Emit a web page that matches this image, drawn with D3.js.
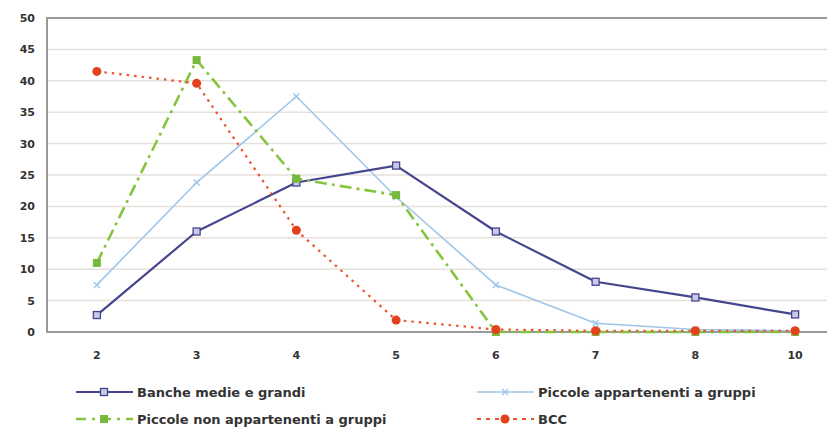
<!DOCTYPE html>
<html>
<head>
<meta charset="utf-8">
<script src="https://cdn.jsdelivr.net/npm/d3@7"></script>
<style>
  html, body { margin: 0; padding: 0; background: #fff; }
  svg { display: block; }
  text { font-family: "DejaVu Sans", "Liberation Sans", Arial, sans-serif; font-weight: bold; fill: #333; }
</style>
</head>
<body>
<svg id="chart" width="827" height="427"></svg>
<script>
// Number categories on the horizontal axis
const categories = ["2", "3", "4", "5", "6", "7", "8", "10"];
const yTicks = [0, 5, 10, 15, 20, 25, 30, 35, 40, 45, 50];

// Percentages for each group of banks
const bancheMedieGrandi = [2.7, 16, 23.8, 26.5, 16, 8, 5.5, 2.8];
const piccoleAppartenenti = [7.5, 23.8, 37.5, 21.5, 7.5, 1.4, 0.4, 0.2];
const piccoleNonAppartenenti = [11, 43.3, 24.4, 21.8, 0, 0, 0, 0];
const bcc = [41.5, 39.6, 16.2, 1.9, 0.4, 0.2, 0.2, 0.2];

const seriesNames = [
  "Banche medie e grandi",
  "Piccole appartenenti a gruppi",
  "Piccole non appartenenti a gruppi",
  "BCC"
];

const svg = d3.select("#chart");
const plot = { left: 47, top: 18, bottom: 332, right: 845 };
const fontFamily = "'DejaVu Sans', 'Liberation Sans', Arial, sans-serif";

const x = d3.scaleBand().domain(categories).range([plot.left, plot.right]).padding(0);
const y = d3.scaleLinear().domain([0, 50]).range([plot.bottom, plot.top]);
const cx = c => x(c) + x.bandwidth() / 2;

// Horizontal gridlines
svg.append("g")
  .selectAll("line")
  .data(yTicks.filter(t => t > 0 && t < 50))
  .join("line")
  .attr("x1", plot.left).attr("x2", 827)
  .attr("y1", d => y(d)).attr("y2", d => y(d))
  .attr("stroke", "#e6e1dc").attr("stroke-width", 1.5);

// Frame: top, left and baseline
svg.append("path")
  .attr("d", `M827,${plot.top}H${plot.left}V${plot.bottom}H827`)
  .attr("fill", "none").attr("stroke", "#9a9a9a").attr("stroke-width", 2);

// Y axis labels
const yAxis = d3.axisLeft(y).tickValues(yTicks).tickSize(0).tickPadding(0);
const gy = svg.append("g").attr("transform", `translate(35,0)`).call(yAxis);
gy.select(".domain").remove();
gy.selectAll("text").attr("font-size", 11).attr("fill", "#3a3a3a")
  .style("font-family", fontFamily).style("font-weight", "bold");

// X axis labels
const xAxis = d3.axisBottom(x).tickSize(0).tickPadding(0);
const gx = svg.append("g").attr("transform", `translate(0,351)`).call(xAxis);
gx.select(".domain").remove();
gx.selectAll("text").attr("font-size", 11).attr("fill", "#3a3a3a")
  .style("font-family", fontFamily).style("font-weight", "bold");

const styles = [
  { values: bancheMedieGrandi, color: "#45458e", width: 2.2, dash: null, marker: "square-open" },
  { values: piccoleAppartenenti, color: "#9fc6ea", width: 1.6, dash: null, marker: "x" },
  { values: piccoleNonAppartenenti, color: "#86c440", width: 2.6, dash: "12,5,3,5", marker: "square" },
  { values: bcc, color: "#e8542c", width: 2.2, dash: "2.5,5", marker: "circle" }
];

function drawMarker(g, type, color, px, py) {
  if (type === "square-open") {
    g.append("rect").attr("x", px - 3.5).attr("y", py - 3.5).attr("width", 7).attr("height", 7)
      .attr("fill", "#c9c9ea").attr("stroke", color).attr("stroke-width", 1.3);
  } else if (type === "x") {
    g.append("path").attr("d", `M${px - 3},${py - 3}L${px + 3},${py + 3}M${px - 3},${py + 3}L${px + 3},${py - 3}`)
      .attr("stroke", color).attr("stroke-width", 1.4);
  } else if (type === "square") {
    g.append("rect").attr("x", px - 4).attr("y", py - 4).attr("width", 8).attr("height", 8)
      .attr("fill", "#78b83a");
  } else if (type === "circle") {
    g.append("circle").attr("cx", px).attr("cy", py).attr("r", 4.5).attr("fill", "#e4401c");
  }
}

const line = d3.line().x((d, i) => cx(categories[i])).y(d => y(d));

// Light blue underneath, BCC on top
[1, 0, 2, 3].forEach(k => {
  const s = styles[k];
  const g = svg.append("g");
  g.append("path").datum(s.values).attr("d", line)
    .attr("fill", "none").attr("stroke", s.color).attr("stroke-width", s.width)
    .attr("stroke-dasharray", s.dash).attr("stroke-linejoin", "round");
  s.values.forEach((v, i) => drawMarker(g, s.marker, s.color, cx(categories[i]), y(v)));
});

// Legend, two columns by two rows
const legendPos = [
  { x: 76, y: 392 }, { x: 477, y: 392 },
  { x: 76, y: 419 }, { x: 477, y: 419 }
];
[0, 1, 2, 3].forEach((k, j) => {
  const s = styles[k];
  const p = legendPos[j];
  const g = svg.append("g");
  g.append("line").attr("x1", p.x).attr("x2", p.x + 57).attr("y1", p.y).attr("y2", p.y)
    .attr("stroke", s.color).attr("stroke-width", s.width)
    .attr("stroke-dasharray", k === 2 ? "10,6,3,6" : (k === 3 ? "4,5" : null));
  drawMarker(g, s.marker, s.color, p.x + 28, p.y);
  g.append("text").attr("x", p.x + 61).attr("y", p.y + 4.5)
    .attr("font-size", 13).text(seriesNames[k]);
});
</script>
</body>
</html>
